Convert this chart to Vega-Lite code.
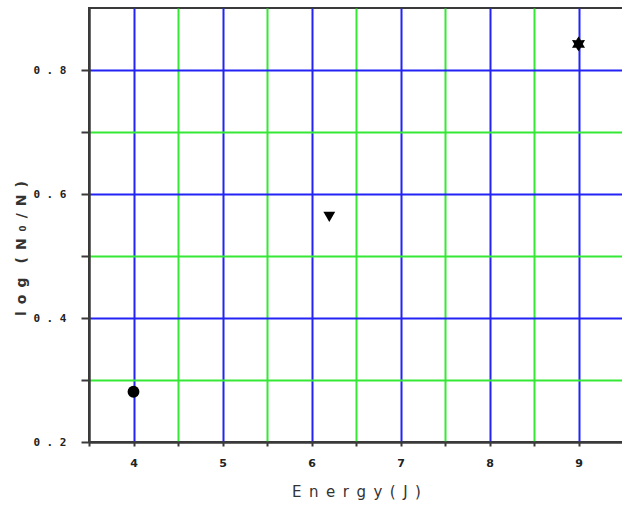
{
  "$schema": "https://vega.github.io/schema/vega-lite/v6.json",
  "autosize": "none",
  "width": 534,
  "height": 434,
  "padding": {"left": 89, "top": 8, "right": 0, "bottom": 64},
  "background": "white",
  "config": {
    "view": {"stroke": "#3a3a3a", "strokeWidth": 2}
  },
  "data": {
    "values": [
      {"energy": 4.0, "logratio": 0.281, "marker": "A"},
      {"energy": 6.2, "logratio": 0.563, "marker": "B"},
      {"energy": 9.0, "logratio": 0.842, "marker": "C"}
    ]
  },
  "mark": {"type": "point", "filled": true, "color": "black", "opacity": 1, "size": 140},
  "encoding": {
    "x": {
      "field": "energy",
      "type": "quantitative",
      "scale": {"domain": [3.5, 9.5], "nice": false, "zero": false},
      "axis": {
        "title": "E\u2002n\u2002e\u2002r\u2002g\u2002y\u2002(\u2002J\u2002)",
        "values": [3.5, 4, 4.5, 5, 5.5, 6, 6.5, 7, 7.5, 8, 8.5, 9],
        "labelExpr": "datum.value % 1 == 0 ? format(datum.value, 'd') : ''",
        "grid": true,
        "gridWidth": 2,
        "gridOpacity": {"condition": {"test": "datum.value < 3.9", "value": 0}, "value": 1},
        "gridColor": {"condition": {"test": "datum.value % 1 == 0", "value": "#2323f5"}, "value": "#35e835"},
        "domainColor": "#3a3a3a",
        "domainWidth": 2.5,
        "tickColor": "#3a3a3a",
        "tickWidth": 2,
        "tickSize": 4,
        "labelFont": "DejaVu Sans",
        "labelFontWeight": "bold",
        "labelFontSize": 11,
        "labelColor": "#222",
        "labelPadding": 11,
        "labelFlush": false,
        "titleFont": "DejaVu Sans",
        "titleFontWeight": "normal",
        "titleFontSize": 15,
        "titleColor": "#333",
        "titleBaseline": "top",
        "titleY": 42
      }
    },
    "y": {
      "field": "logratio",
      "type": "quantitative",
      "scale": {"domain": [0.2, 0.9], "nice": false, "zero": false},
      "axis": {
        "title": "l\u2002o\u2002g\u2002\u2002(\u2002N\u2002₀\u2002/\u2002N\u2002)",
        "values": [0.2, 0.3, 0.4, 0.5, 0.6, 0.7, 0.8],
        "labelExpr": "round(datum.value * 10) % 2 == 0 ? replace(format(datum.value, '.1f'), '.', ' . ') : ''",
        "grid": true,
        "gridWidth": 2,
        "gridOpacity": {"condition": {"test": "datum.value < 0.25", "value": 0}, "value": 1},
        "gridColor": {"condition": {"test": "round(datum.value * 10) % 2 == 0", "value": "#2323f5"}, "value": "#35e835"},
        "domainColor": "#3a3a3a",
        "domainWidth": 2.5,
        "tickColor": "#3a3a3a",
        "tickWidth": 2,
        "tickSize": 8,
        "labelFont": "DejaVu Sans Mono",
        "labelFontWeight": "bold",
        "labelFontSize": 11,
        "labelColor": "#222",
        "labelPadding": 15,
        "labelFlush": false,
        "titleFont": "DejaVu Sans",
        "titleFontWeight": "bold",
        "titleFontSize": 14,
        "titleColor": "#333",
        "titleAngle": -90,
        "titleAlign": "center",
        "titleBaseline": "middle",
        "titleX": -68,
        "titleY": 240
      }
    },
    "shape": {
      "field": "marker",
      "type": "nominal",
      "scale": {"domain": ["A", "B", "C"], "range": ["circle", "triangle-down", "M0,-1.25L0.4,-0.62L1.1,-0.65L0.72,0L1.1,0.65L0.4,0.62L0,1.25L-0.4,0.62L-1.1,0.65L-0.72,0L-1.1,-0.65L-0.4,-0.62Z"]},
      "legend": null
    }
  }
}
